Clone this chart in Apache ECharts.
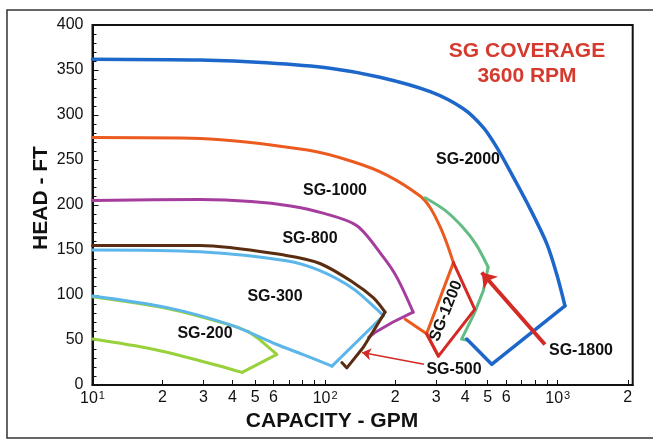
<!DOCTYPE html>
<html><head><meta charset="utf-8">
<script src="https://cdn.jsdelivr.net/npm/echarts@6/dist/echarts.min.js"></script>
<style>html,body{margin:0;padding:0;background:#fff}#c{width:653px;height:439px}</style>
</head><body><div id="c"></div>
<script>
// ---- tick values ----
const xLabelValues = [10,20,30,40,50,60,100,200,300,400,500,600,1000,2000];
const xTickValues = [10,20,30,40,50,60,70,80,90,100,200,300,400,500,600,700,800,900,1000,2000];

// ---- envelope data [capacity GPM, head FT] ----
const sg2000Top  = [[10,362],[29,361],[56,358],[105,352],[172,342],[283,326],[393,307],[479,286],[547,264],[644,231],[760,196],[897,157],[990,123],[1074,88]];
const sg2000Edge = [[1074,88],[520,23],[406,51]];

const sg1800Top  = [[269,208],[328,194],[388,176],[446,156],[502,131]];
const sg1800Edge = [[502,131],[479,105],[437,79],[386,51],[404,50]];

const sg1000Top  = [[10,275],[29,274],[84,261],[132,248],[185,233],[256,210],[283,197],[312,176],[334,157],[356,136]];
const sg1000Edge = [[356,136],[273,57]];
const sg1000Low  = [[221,73],[273,57],[307,32]];

const sg1200Edge = [[356,136],[440,84],[307,32],[273,57]];

const sg800Top   = [[10,205],[29,206],[48,204],[71,199],[98,191],[137,177],[178,142],[204,119],[239,81]];
const sg800Edge  = [[239,81],[196,70],[163,58],[154,53]];

const sg500Top   = [[10,155],[29,155],[68,144],[95,135],[132,114],[161,97],[181,81]];
const sg500Edge  = [[181,81],[146,42],[124,19],[118,25]];

const sg300Top   = [[10,150],[29,148],[68,138],[95,127],[132,107],[167,84],[178,77]];
const sg300Edge  = [[178,77],[107,21]];
const sg300Low   = [[107,21],[80,34],[62,45],[40,66],[21,86],[10,99]];

const sg200Top   = [[10,98],[21,85],[40,66],[47,59]];
const sg200Edge  = [[47,59],[52,51],[62,34],[44,14]];
const sg200Low   = [[44,14],[29,27],[18,40],[10,51]];

// arrows [from, to]
const arrow1800 = [[881,45],[471,125]];
const arrow500  = [[266,23],[144,36]];

// ---- styles ----
const C = {
  b2000:'#1d67cb', g1800:'#63bc84', o1000:'#eb5b1f', r1200:'#d42a26',
  p800:'#a53d9e', br500:'#5a2d10', lb300:'#5cb6ea', y200:'#98d13c', red:'#d42a26'
};

function ln(data, color, width, smooth, z){
  return {type:'line', data:data, smooth:smooth ? 0.3 : false,
    showSymbol:false, symbol:'none',
    lineStyle:{color:color, width:width, cap:'round', join:'round'}, z:z||2, silent:true, animation:false};
}
function arrow(pts, width, size){
  return {type:'line', data:[], silent:true, animation:false, z:10,
    markLine:{silent:true, animation:false, symbol:['none','arrow'], symbolSize:size,
      label:{show:false}, lineStyle:{color:C.red, width:width, type:'solid'},
      data:[[{coord:pts[0]},{coord:pts[1]}]]}};
}

const chart = echarts.init(document.getElementById('c'), null, {renderer:'canvas'});
function gtext(txt, x, y, extra){
  return Object.assign({type:'text', x:x, y:y, silent:true,
    style:Object.assign({text:txt, align:'center', verticalAlign:'middle',
      font:'bold 16px "Liberation Sans", Arial, sans-serif', fill:'#111'}, extra && extra.style || {})},
    extra && extra.el || {});
}

chart.setOption({
  animation:false,
  backgroundColor:'#fff',
  grid:{left:92.5, right:20.3, top:25, bottom:54, show:true, borderColor:'#111', borderWidth:2, backgroundColor:'transparent'},
  xAxis:{type:'log', logBase:10, min:10, max:2100,
    axisLine:{show:true, lineStyle:{color:'#111', width:2}},
    axisTick:{show:true, inside:true, length:5, lineStyle:{color:'#111', width:1}, customValues:xTickValues},
    splitLine:{show:false}, minorTick:{show:false},
    axisLabel:{customValues:xLabelValues, margin:5, color:'#111', fontFamily:'Liberation Sans, Arial, sans-serif', fontSize:16,
      formatter:function(v){
        const r = Math.round(v);
        if (r===10) return '{b|10}{s|1}';
        if (r===100) return '{b|10}{s|2}';
        if (r===1000) return '{b|10}{s|3}';
        return String(Math.round(r/Math.pow(10, Math.floor(Math.log10(r)+1e-9))));
      },
      rich:{b:{fontSize:16, lineHeight:18, color:'#111', fontFamily:'Liberation Sans, Arial, sans-serif'},
            s:{fontSize:11, lineHeight:18, verticalAlign:'top', padding:[0,0,9,1], color:'#111', fontFamily:'Liberation Sans, Arial, sans-serif'}}
    }
  },
  yAxis:{type:'value', min:0, max:400, interval:50,
    axisLine:{show:true, lineStyle:{color:'#111', width:2}},
    axisTick:{show:true, inside:true, length:6, lineStyle:{color:'#111', width:1}},
    minorTick:{show:true, splitNumber:5, length:4, lineStyle:{color:'#111', width:1}},
    splitLine:{show:false},
    axisLabel:{margin:9, color:'#111', fontFamily:'Liberation Sans, Arial, sans-serif', fontSize:16}
  },
  series:[
    ln(sg200Top, C.y200, 3, true), ln(sg200Edge, C.y200, 3, false), ln(sg200Low, C.y200, 3, true),
    ln(sg300Top, C.lb300, 3, true), ln(sg300Edge, C.lb300, 3, false), ln(sg300Low, C.lb300, 3, true),
    ln(sg500Top, C.br500, 3, true, 3), ln(sg500Edge, C.br500, 3, false, 3),
    ln(sg800Top, C.p800, 3, true), ln(sg800Edge, C.p800, 3, false),
    ln(sg1000Top, C.o1000, 3, true), ln(sg1000Edge, C.o1000, 3, false), ln(sg1000Low, C.o1000, 3, false),
    ln(sg1800Top, C.g1800, 3, true), ln(sg1800Edge, C.g1800, 3, false),
    ln(sg1200Edge, C.r1200, 3, false, 4),
    ln(sg2000Top, C.b2000, 3.5, true), ln(sg2000Edge, C.b2000, 3.5, false),
    arrow(arrow1800, 4, 14), arrow(arrow500, 1.5, 9)
  ],
  graphic:[
    {type:'rect', silent:true, shape:{x:7, y:10, width:680, height:428}, style:{fill:'none', stroke:'#333', lineWidth:1.5}},
    gtext('SG COVERAGE', 527, 51, {style:{font:'bold 21px "Liberation Sans", Arial, sans-serif', fill:'#d43a2e'}}),
    gtext('3600 RPM', 527, 76, {style:{font:'bold 21px "Liberation Sans", Arial, sans-serif', fill:'#d43a2e'}}),
    gtext('SG-2000', 468, 160),
    gtext('SG-1000', 335, 191),
    gtext('SG-800', 310, 239),
    gtext('SG-300', 275, 297),
    gtext('SG-200', 205, 334),
    gtext('SG-500', 454, 370),
    gtext('SG-1800', 581, 351),
    gtext('SG-1200', 446, 311, {el:{rotation:1.19}}),
    gtext('HEAD - FT', 41, 198, {style:{font:'bold 21px "Liberation Sans", Arial, sans-serif'}, el:{rotation:Math.PI/2}}),
    gtext('CAPACITY - GPM', 332, 421, {style:{font:'bold 21px "Liberation Sans", Arial, sans-serif'}})
  ]
});
</script></body></html>
